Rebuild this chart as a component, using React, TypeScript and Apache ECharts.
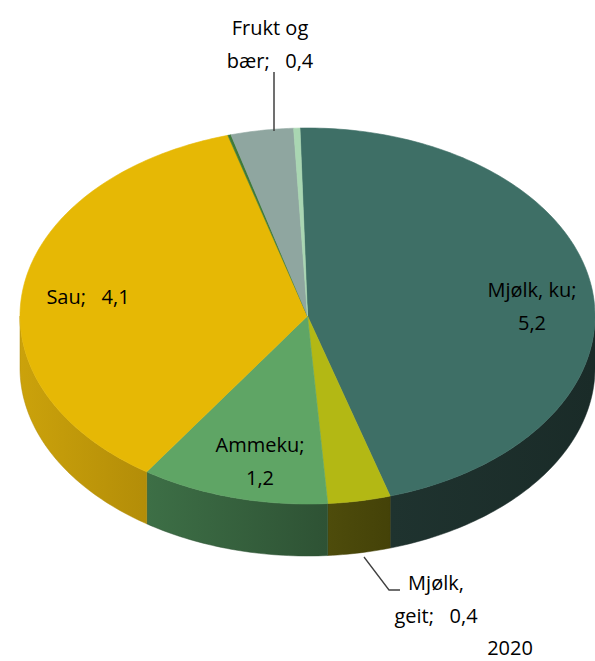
import React, { useEffect, useRef } from "react";
import * as echarts from "echarts";

// ---- data ----
const categories = ["Mjølk, ku", "Mjølk, geit", "Ammeku", "Sau", "Annet 1", "Frukt og bær", "Annet 2"];
const values = [5.2, 0.4, 1.2, 4.1, 0.02, 0.4, 0.04];
const yearLabel = "2020";

// ---- styles ----
const topColors = ["#3E6F66", "#B3B814", "#5FA565", "#E6B805", "#3F7A3A", "#8FA6A0", "#A9D6B2"];
const sideLeft = ["#1F332F", "#4E4C0B", "#3D6F46", "#CBA20B", "#2E5A2B", "#66766F", "#75987C"];
const sideRight = ["#1A2B28", "#444208", "#2E5234", "#B38D08", "#244622", "#55635E", "#628068"];
const DEPTH = 52;
const START_DEG = -1.5;

// label layout: [x, y, mode]  mode: 0 = value on next line, 1 = name wrapped, 2 = single line
const labelLayout: ([number, number, number] | null)[] = [
  [532, 305.5, 0],
  [436, 599, 1],
  [260, 461, 0],
  [88, 296, 2],
  null,
  [270, 43.5, 1],
  null,
];

const fmt = (v: number) => v.toFixed(1).replace(".", ",");

function labelText(i: number): string {
  const name = categories[i];
  const mode = labelLayout[i]![2];
  if (mode === 0) return `${name};\n${fmt(values[i])}`;
  if (mode === 1) {
    const wrapped = name.includes(", ") ? name.replace(", ", ",\n") : name.replace(" og ", " og\n");
    return `${wrapped};   ${fmt(values[i])}`;
  }
  return `${name};   ${fmt(values[i])}`;
}

export default function App() {
  const ref = useRef<HTMLDivElement>(null);
  useEffect(() => {
    if (!ref.current) return;
    const chart = echarts.init(ref.current, undefined, { renderer: "svg" });
    const total = values.reduce((a, b) => a + b, 0);
    const ranges: number[][] = [];
    let acc = 0;
    values.forEach((v) => {
      ranges.push([acc, acc + v]);
      acc += v;
    });
    const off = (START_DEG * Math.PI) / 180;

    const arcPts = (api: any, a0: number, a1: number, dy: number) => {
      const pts: number[][] = [];
      const n = Math.max(2, Math.ceil(((a1 - a0) * 180) / Math.PI));
      for (let k = 0; k <= n; k++) {
        const t = a0 + ((a1 - a0) * k) / n;
        const p = api.coord([Math.sin(t), Math.cos(t)]);
        pts.push([p[0], p[1] + dy]);
      }
      return pts;
    };

    const sideItem = (params: any, api: any) => {
      const i = params.dataIndex;
      const s = (api.value(0) / total) * Math.PI * 2 + off;
      const e = (api.value(1) / total) * Math.PI * 2 + off;
      const a0 = Math.max(s, Math.PI / 2);
      const a1 = Math.min(e, (Math.PI * 3) / 2);
      if (a1 <= a0) return { type: "group", children: [] };
      const top = arcPts(api, a0, a1, 0);
      const bot = arcPts(api, a0, a1, DEPTH).reverse();
      return {
        type: "polygon",
        shape: { points: top.concat(bot) },
        style: {
          fill: new echarts.graphic.LinearGradient(0, 0, 1, 0, [
            { offset: 0, color: sideLeft[i] },
            { offset: 1, color: sideRight[i] },
          ]),
          stroke: sideRight[i],
          lineWidth: 0.5,
        },
      };
    };

    const topItem = (params: any, api: any) => {
      const i = params.dataIndex;
      const s = (api.value(0) / total) * Math.PI * 2 + off;
      const e = (api.value(1) / total) * Math.PI * 2 + off;
      const c = api.coord([0, 0]);
      const pts = [c].concat(arcPts(api, s, e, 0));
      return {
        type: "polygon",
        shape: { points: pts },
        style: { fill: topColors[i], stroke: topColors[i], lineWidth: 0.6 },
      };
    };

    const seriesData = ranges.map((r, i) => ({ name: categories[i], value: r }));

    const graphics: any[] = [];
    labelLayout.forEach((l, i) => {
      if (!l) return;
      graphics.push({
        type: "text",
        x: l[0],
        y: l[1],
        z: 100,
        style: {
          text: labelText(i),
          fill: "#000000",
          font: '20px "Open Sans", sans-serif',
          textAlign: "center",
          textVerticalAlign: "middle",
          lineHeight: 33,
        },
      });
    });
    graphics.push({
      type: "line",
      z: 100,
      shape: { x1: 274, y1: 72, x2: 274, y2: 131 },
      style: { stroke: "#404040", lineWidth: 1.5 },
    });
    graphics.push({
      type: "polyline",
      z: 100,
      shape: { points: [[364, 557], [389, 590], [400, 590]] },
      style: { stroke: "#404040", lineWidth: 1.3, fill: null },
    });
    graphics.push({
      type: "text",
      x: 510,
      y: 647,
      z: 100,
      style: {
        text: yearLabel,
        fill: "#000000",
        font: '20px "Open Sans", sans-serif',
        textAlign: "center",
        textVerticalAlign: "middle",
        lineHeight: 22,
      },
    });

    chart.setOption({
      animation: false,
      backgroundColor: "#ffffff",
      grid: { left: 20, top: 128, width: 576, height: 376 },
      xAxis: { type: "value", min: -1, max: 1, show: false },
      yAxis: { type: "value", min: -1, max: 1, show: false },
      series: [
        {
          type: "custom",
          name: "side",
          coordinateSystem: "cartesian2d",
          renderItem: sideItem,
          data: seriesData,
          z: 1,
          clip: false,
          silent: true,
        },
        {
          type: "custom",
          name: "top",
          coordinateSystem: "cartesian2d",
          renderItem: topItem,
          data: seriesData,
          z: 2,
          clip: false,
          silent: true,
        },
      ],
      graphic: graphics,
    });
    return () => chart.dispose();
  }, []);
  return (
    <div
      ref={ref}
      style={{ position: "absolute", left: 0, top: 0, width: 595, height: 661 }}
    />
  );
}
